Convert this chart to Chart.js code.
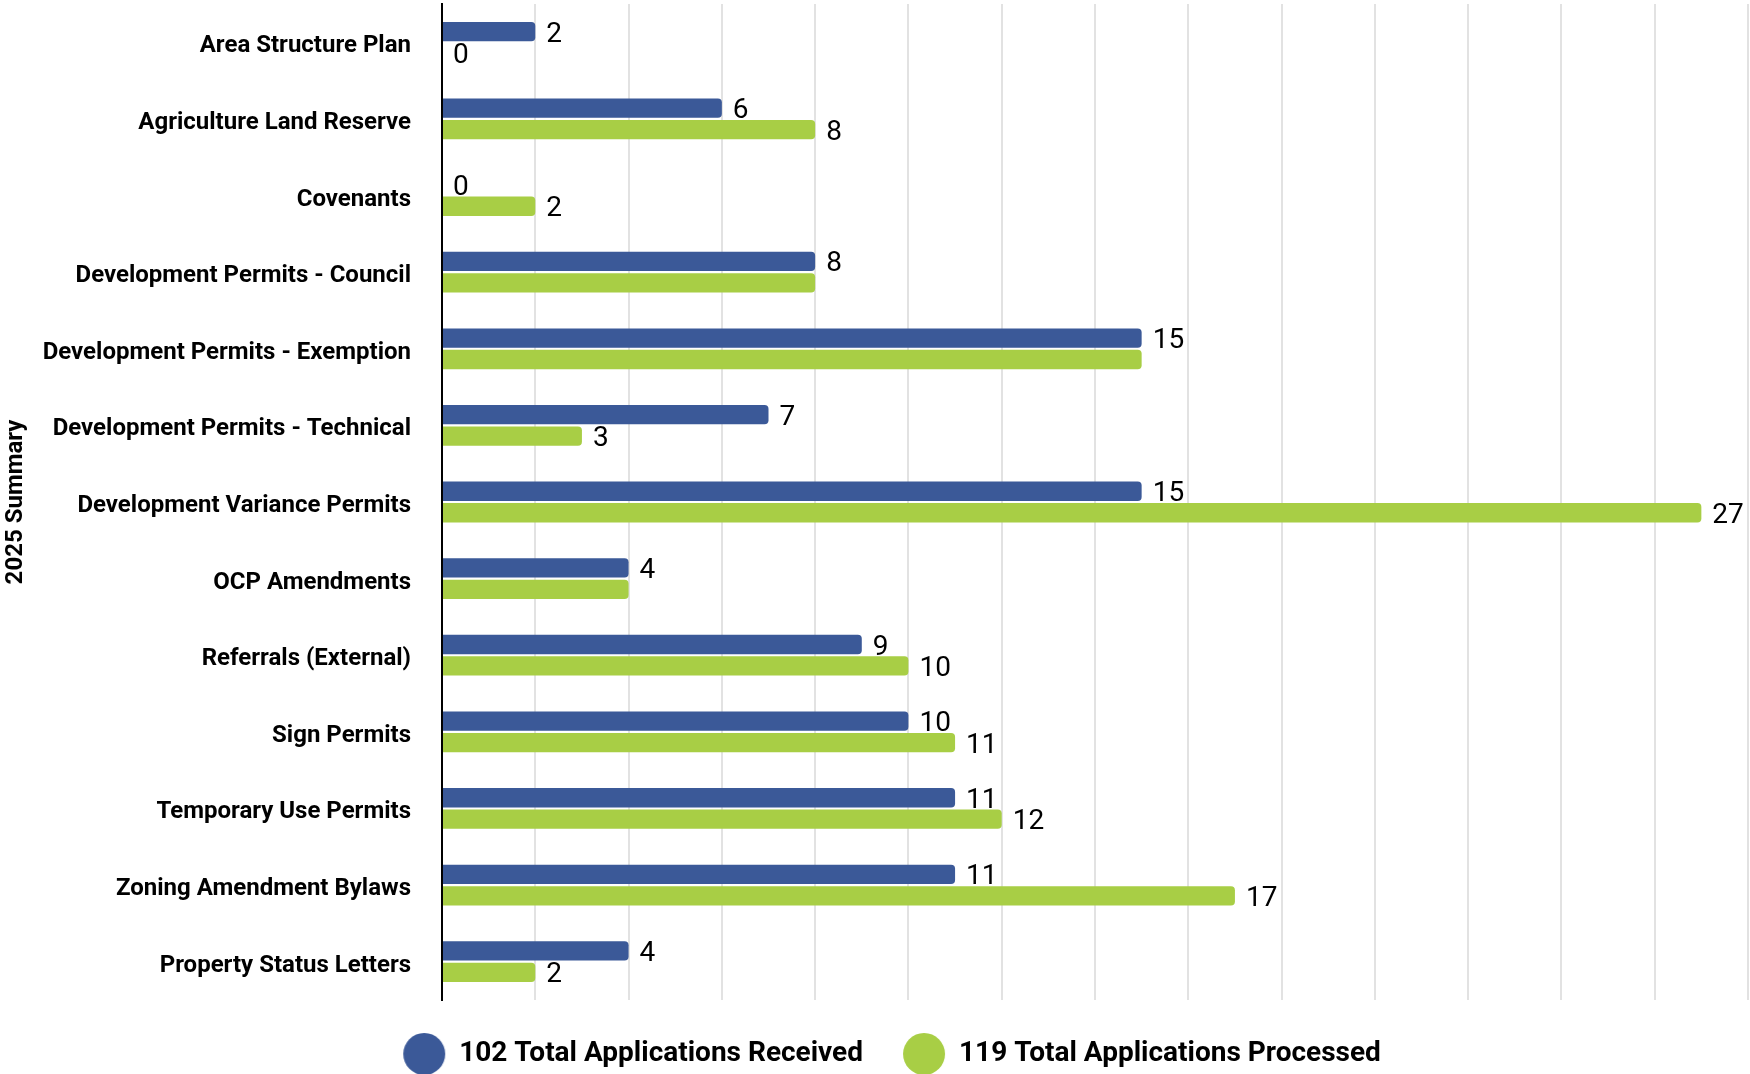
<!DOCTYPE html>
<html>
<head>
<meta charset="utf-8">
<script src="https://cdn.jsdelivr.net/npm/chart.js@4/dist/chart.umd.min.js"></script>
<style>
  html, body { margin: 0; padding: 0; background: #fff; }
  #wrap { width: 1750px; height: 1074px; }
</style>
</head>
<body>
<div id="wrap"><canvas id="barChart" width="1750" height="1074"></canvas></div>
<script>
// data
var categories = [
  "Area Structure Plan", "Agriculture Land Reserve", "Covenants",
  "Development Permits - Council", "Development Permits - Exemption",
  "Development Permits - Technical", "Development Variance Permits",
  "OCP Amendments", "Referrals (External)", "Sign Permits",
  "Temporary Use Permits", "Zoning Amendment Bylaws", "Property Status Letters"
];
var received = [2, 6, 0, 8, 15, 7, 15, 4, 9, 10, 11, 11, 4];
var processed = [0, 8, 2, 8, 15, 3, 27, 4, 10, 11, 12, 17, 2];
var seriesNames = ["102 Total Applications Received", "119 Total Applications Processed"];
var axisTitle = "2025 Summary";

var BLUE = "#3b5998";
var GREEN = "#a8ce45";

function dot(color) {
  var c = document.createElement("canvas");
  c.width = 44; c.height = 44;
  var g = c.getContext("2d");
  g.fillStyle = color;
  g.beginPath();
  g.arc(22, 22, 21, 0, Math.PI * 2);
  g.fill();
  return c;
}
var dots = [dot(BLUE), dot(GREEN)];

// value labels at the bar ends, skipped when they would collide
var valueLabels = {
  id: "valueLabels",
  afterDatasetsDraw: function (chart) {
    var ctx = chart.ctx;
    var size = 28;
    ctx.save();
    ctx.font = "400 " + size + "px Roboto";
    ctx.fillStyle = "#000";
    ctx.textAlign = "left";
    ctx.textBaseline = "middle";
    var boxes = [];
    chart.data.datasets.forEach(function (ds, di) {
      var meta = chart.getDatasetMeta(di);
      meta.data.forEach(function (bar, i) {
        var txt = String(ds.data[i]);
        var w = ctx.measureText(txt).width;
        var r = { x: bar.x + 11, y: bar.y + 3 - size / 2, w: w, h: size };
        var hit = boxes.some(function (b) {
          return r.x < b.x + b.w && b.x < r.x + r.w && r.y < b.y + b.h && b.y < r.y + r.h;
        });
        if (hit) return;
        boxes.push(r);
        ctx.fillText(txt, r.x, bar.y + 3);
      });
    });
    ctx.restore();
  }
};

// legend sits a little right of centre in the original
var legendShift = {
  id: "legendShift",
  afterLayout: function (chart) {
    chart.legend.left += 18;
    chart.legend.right += 18;
  }
};

var ctxB = document.getElementById("barChart").getContext("2d");
var myBarChart = new Chart(ctxB, {
  type: "bar",
  data: {
    labels: categories,
    datasets: [{
        label: seriesNames[0],
        data: received,
        backgroundColor: BLUE,
        borderRadius: 4,
        categoryPercentage: 0.56,
        barPercentage: 0.9
      },
      {
        label: seriesNames[1],
        data: processed,
        backgroundColor: GREEN,
        borderRadius: 4,
        categoryPercentage: 0.56,
        barPercentage: 0.9
      }
    ]
  },
  plugins: [valueLabels, legendShift],
  options: {
    indexAxis: "y",
    responsive: false,
    animation: false,
    layout: { padding: { top: 4, right: 2, left: 0, bottom: 0 } },
    plugins: {
      tooltip: { enabled: false },
      legend: {
        position: "bottom",
        maxHeight: 74,
        labels: {
          usePointStyle: true,
          pointStyleWidth: 42,
          padding: 40,
          color: "#000",
          font: { family: "Roboto", size: 28, weight: "bold" },
          generateLabels: function (chart) {
            return Chart.defaults.plugins.legend.labels.generateLabels(chart).map(function (l, i) {
              l.pointStyle = dots[i];
              return l;
            });
          }
        }
      }
    },
    scales: {
      x: {
        min: 0,
        max: 28,
        ticks: { stepSize: 2, display: false },
        grid: { color: "#e2e2e2", lineWidth: 2, drawTicks: false },
        border: { display: false }
      },
      y: {
        grid: { display: false },
        border: { color: "#000", width: 2 },
        ticks: {
          color: "#000",
          padding: 23,
          labelOffset: 4,
          font: { family: "Roboto", size: 24, weight: "bold" }
        },
        title: {
          display: true,
          text: axisTitle,
          color: "#000",
          padding: 2,
          font: { family: "Roboto", size: 24, weight: "bold" }
        },
        afterFit: function (scale) {
          scale.width = 442;
          scale.paddingTop = 0;
          scale.paddingBottom = 0;
        }
      }
    }
  }
});
</script>
</body>
</html>
